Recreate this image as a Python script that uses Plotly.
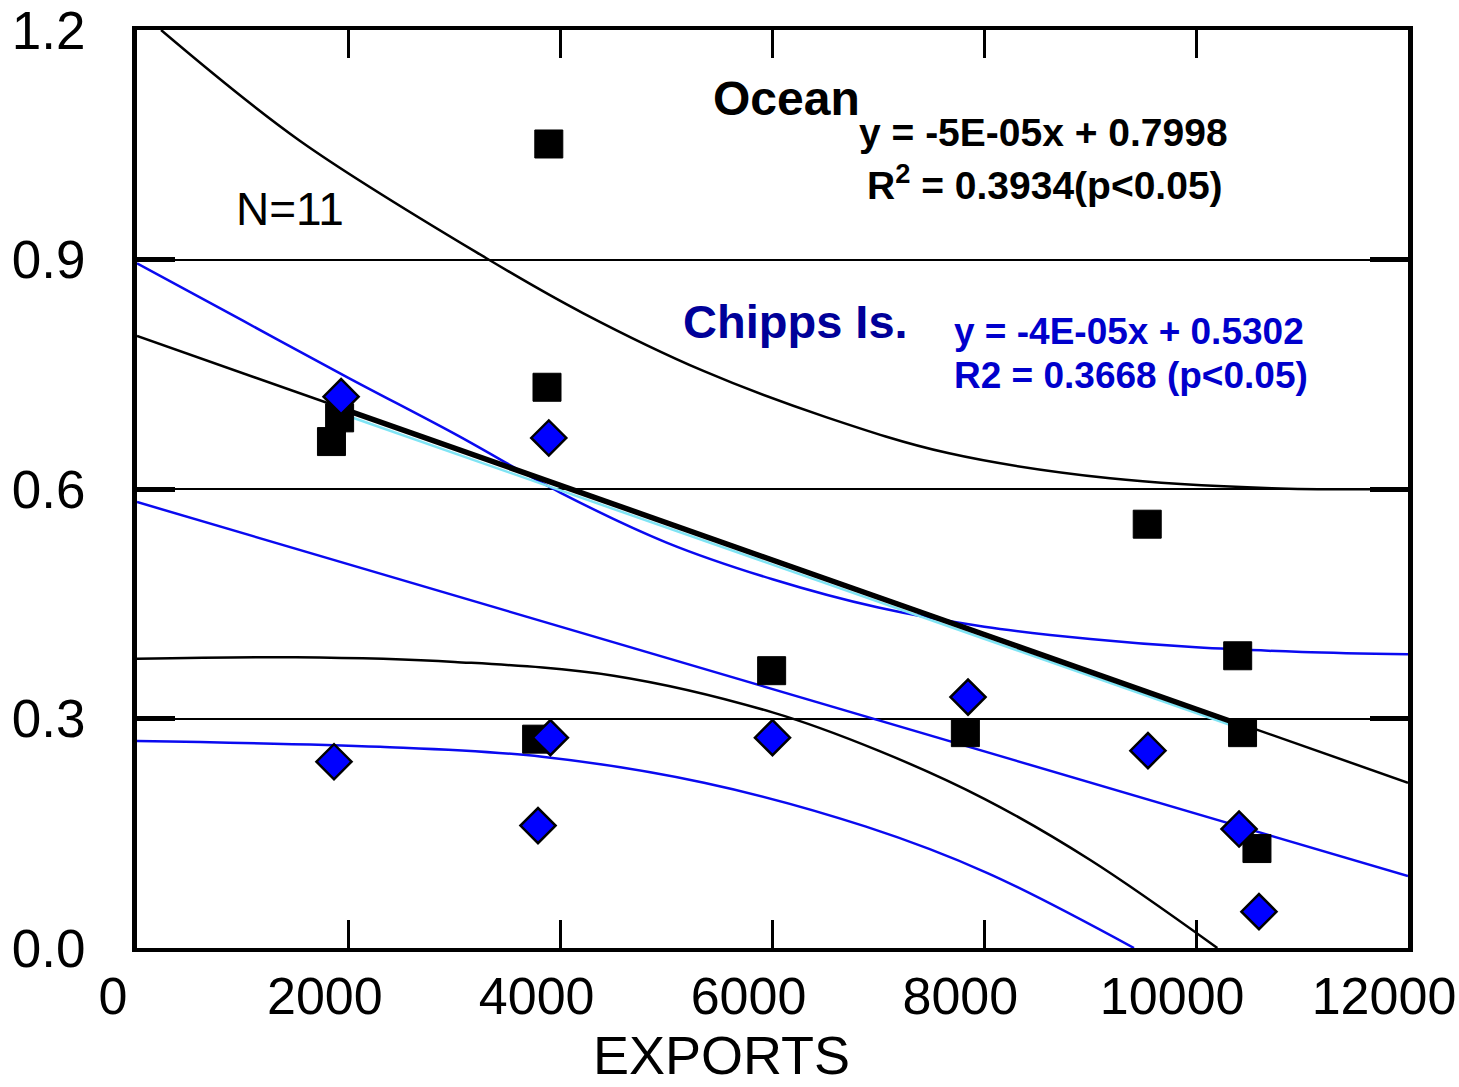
import plotly.graph_objects as go

# ---------------- data ----------------
ocean_x = [1836, 1913, 3888, 3871, 3773, 5992, 7821, 9538, 10392, 10438, 10574]
ocean_y = [0.662, 0.693, 1.051, 0.733, 0.273, 0.3625, 0.2815, 0.554, 0.382, 0.2815, 0.130]

chipps_x = [1927, 3888, 1860, 3786, 3903, 6000, 7846, 9545, 10405, 10593]
chipps_y = [0.7207, 0.6667, 0.2435, 0.160, 0.275, 0.275, 0.328, 0.258, 0.1555, 0.0475]

# Ocean regression line and bands
ocean_fit_x = [0, 12000]
ocean_fit_y = [0.800, 0.216]
ocean_fit_range_x = [1836, 10560]
ocean_fit_range_y = [0.710, 0.285]
cyan_x = [1836, 10560]
cyan_y = [0.703, 0.280]
ocean_up_x = [227, 1530, 3295, 4210, 5353, 6505, 7657, 9187, 10716, 12000]
ocean_up_y = [1.2, 1.056, 0.902, 0.830, 0.754, 0.694, 0.647, 0.614, 0.601, 0.600]
ocean_lo_x = [0, 1500, 3000, 4500, 6000, 7000, 8000, 9000, 10200]
ocean_lo_y = [0.378, 0.380, 0.374, 0.356, 0.308, 0.258, 0.195, 0.115, 0.0]

# Chipps regression line and bands
chipps_fit_x = [0, 12000]
chipps_fit_y = [0.583, 0.094]
chipps_up_x = [0, 1000, 2000, 3000, 4000, 5000, 6000, 7000, 8000, 9000, 10000, 11000, 12000]
chipps_up_y = [0.895, 0.82, 0.745, 0.672, 0.595, 0.530, 0.482, 0.445, 0.420, 0.404, 0.393, 0.387, 0.384]
chipps_lo_x = [0, 2295, 3824, 5353, 6883, 8030, 9413]
chipps_lo_y = [0.2706, 0.263, 0.250, 0.216, 0.1586, 0.098, 0.0]

x_ticks = [0, 2000, 4000, 6000, 8000, 10000, 12000]
x_ticktext = ["0", "2000", "4000", "6000", "8000", "10000", "12000"]
y_ticks = [0.0, 0.3, 0.6, 0.9, 1.2]
y_ticktext = ["0.0", "0.3", "0.6", "0.9", "1.2"]

# ---------------- layout geometry ----------------
W, H = 1459, 1087
L, R, T, B = 137, 1408, 30, 948

def px2paper(px, py):
    return (px - L) / (R - L), (B - py) / (B - T)

FONT = "Liberation Sans, Arial, sans-serif"
BLUE_LINE = "#0a0af0"

fig = go.Figure()

def line(x, y, color, width, spline=False):
    fig.add_trace(go.Scatter(x=x, y=y, mode="lines",
                             line=dict(color=color, width=width,
                                       shape=("spline" if spline else "linear"),
                                       smoothing=1.0),
                             hoverinfo="skip", showlegend=False))

line(ocean_up_x, ocean_up_y, "black", 2.5, spline=True)
line(ocean_lo_x, ocean_lo_y, "black", 2.5, spline=True)
line(chipps_up_x, chipps_up_y, BLUE_LINE, 2.5, spline=True)
line(chipps_lo_x, chipps_lo_y, BLUE_LINE, 2.5, spline=True)
line(chipps_fit_x, chipps_fit_y, BLUE_LINE, 2.5)
line(ocean_fit_x, ocean_fit_y, "black", 2.5)
line(cyan_x, cyan_y, "#80e4f4", 2.5)
line(ocean_fit_range_x, ocean_fit_range_y, "black", 5.5)

fig.add_trace(go.Scatter(x=ocean_x, y=ocean_y, mode="markers", name="Ocean",
                         marker=dict(symbol="square", size=28, color="black",
                                     line=dict(color="black", width=1)),
                         showlegend=False))
fig.add_trace(go.Scatter(x=chipps_x, y=chipps_y, mode="markers", name="Chipps Is.",
                         marker=dict(symbol="diamond", size=27, color="#0000ff",
                                     line=dict(color="black", width=2.5)),
                         showlegend=False))

annotations = []

def text(s, px, py, size, color="black", bold=False, xanchor="center", yanchor="middle"):
    xp, yp = px2paper(px, py)
    annotations.append(dict(text=(f"<b>{s}</b>" if bold else s), x=xp, y=yp,
                            xref="paper", yref="paper", xanchor=xanchor, yanchor=yanchor,
                            showarrow=False, font=dict(family=FONT, size=size, color=color)))

text("Ocean", 786, 98, 48, bold=True)
text("y = -5E-05x + 0.7998", 1043, 132, 39, bold=True)
text("R<sup>2</sup> = 0.3934(p&lt;0.05)", 1045, 183, 39, bold=True)
text("N=11", 290, 209, 46)
text("Chipps Is.", 795, 321, 47, color="#000099", bold=True)
text("y = -4E-05x + 0.5302", 952, 331, 37, color="#0000cc", bold=True, xanchor="left")
text("R2 = 0.3668 (p&lt;0.05)", 952, 376, 37, color="#0000cc", bold=True, xanchor="left")
text("EXPORTS", 721, 1087, 54, yanchor="bottom")

fig.update_layout(
    width=W, height=H,
    margin=dict(l=L, r=W - R, t=T, b=H - B, autoexpand=False),
    paper_bgcolor="white", plot_bgcolor="white",
    showlegend=False,
    annotations=annotations,
    font=dict(family=FONT, color="black"),
)
fig.update_xaxes(
    range=[0, 12000], tickmode="array", tickvals=x_ticks, ticktext=x_ticktext,
    ticks="inside", ticklen=28, tickwidth=3, tickcolor="black",
    showline=True, linewidth=4, linecolor="black", mirror="ticks",
    showgrid=False, zeroline=False, automargin=False,
    tickfont=dict(family=FONT, size=52, color="black"),
    ticklabelstandoff=0, ticklabelshift=-24,
)
fig.update_yaxes(
    range=[0, 1.2], tickmode="array", tickvals=y_ticks, ticktext=y_ticktext,
    ticks="inside", ticklen=38, tickwidth=5, tickcolor="black",
    showline=True, linewidth=5, linecolor="black", mirror="ticks",
    showgrid=True, gridcolor="black", gridwidth=2, zeroline=False, automargin=False,
    tickfont=dict(family=FONT, size=53, color="black"),
    ticklabelstandoff=36,
)

fig.write_html("out.html")
